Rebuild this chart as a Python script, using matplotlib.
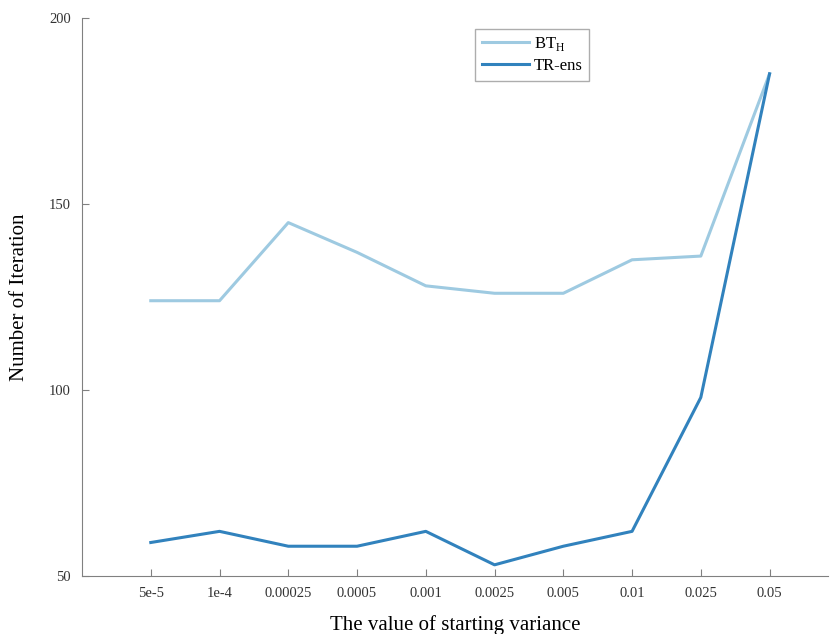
import matplotlib
matplotlib.use("Agg")
import matplotlib.pyplot as plt

variances = ["5e-5", "1e-4", "0.00025", "0.0005", "0.001",
             "0.0025", "0.005", "0.01", "0.025", "0.05"]
bt_h = [124, 124, 145, 137, 128, 126, 126, 135, 136, 185]
tr_ens = [59, 62, 58, 58, 62, 53, 58, 62, 98, 185]

plt.rcParams["font.family"] = ["Liberation Serif", "DejaVu Serif"]

fig = plt.figure(figsize=(8.31, 6.34), dpi=100)
ax = fig.add_axes([0.0987, 0.0915, 0.8977, 0.8801])

xs = range(1, len(variances) + 1)
ax.plot(xs, bt_h, color="#9ecae1", lw=2.2, label="BT$_\\mathregular{H}$")
ax.plot(xs, tr_ens, color="#3182bd", lw=2.2, label="TR-ens")

ax.set_xlim(0, 10.85)
ax.set_ylim(50, 200)
ax.set_xticks(list(xs))
ax.set_xticklabels(variances)
ax.set_yticks([50, 100, 150, 200])

for side in ("top", "right"):
    ax.spines[side].set_visible(False)
for side in ("left", "bottom"):
    ax.spines[side].set_color("#808080")
ax.tick_params(direction="in", length=5, color="#808080",
               labelsize=10.5, labelcolor="#333333", pad=8)

ax.set_xlabel("The value of starting variance", fontsize=15, labelpad=11)
ax.set_ylabel("Number of Iteration", fontsize=15, labelpad=14)

leg = ax.legend(loc="upper left", bbox_to_anchor=(0.562, 0.968),
                bbox_transform=fig.transFigure, fontsize=12,
                fancybox=False, edgecolor="#999999", handlelength=2.8,
                handletextpad=0.3, borderpad=0.4, labelspacing=0.3)
leg.get_frame().set_linewidth(1.0)

fig.savefig("out.png", dpi=100)
